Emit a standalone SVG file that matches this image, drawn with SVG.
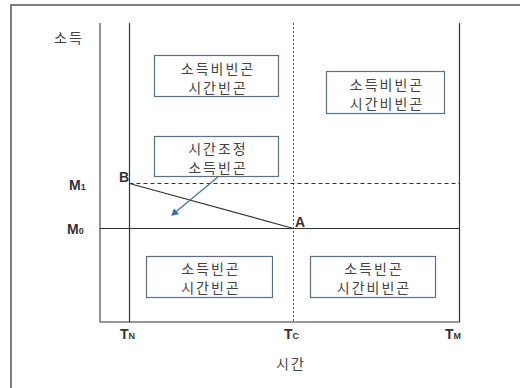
<svg xmlns="http://www.w3.org/2000/svg" width="520" height="388" viewBox="0 0 520 388">
<style>
.box{fill:#fff;stroke:#5a6f8a;stroke-width:1.2}
.kt{font-family:"Noto Sans CJK KR","Noto Sans",sans-serif;font-size:14px;letter-spacing:2px;fill:#444;text-anchor:middle}
.lbl{font-family:"Liberation Sans",Arial,sans-serif;font-weight:bold;fill:#333}
.ax{stroke:#333;stroke-width:1.2;fill:none}
</style>
<defs>
<marker id="ah" markerWidth="8" markerHeight="8" refX="6" refY="4" orient="auto" markerUnits="userSpaceOnUse">
<path d="M0,0 L7,4 L0,8 Z" fill="#3f6fa8"/>
</marker>
</defs>
<rect width="520" height="388" fill="#fff"/>
<path d="M11,388 V5 H520" fill="none" stroke="#555" stroke-width="1.5"/>
<g id="axes">
<line x1="100" y1="23" x2="100" y2="322" stroke="#888" stroke-width="1.8"/>
<line x1="100" y1="322" x2="460" y2="322" class="ax"/>
<line x1="129.5" y1="23" x2="129.5" y2="322" class="ax"/>
<line x1="459.5" y1="23" x2="459.5" y2="322" class="ax"/>
<line x1="293.5" y1="23" x2="293.5" y2="322" stroke="#555" stroke-width="1" stroke-dasharray="2,2"/>
<line x1="129.5" y1="183.5" x2="459.5" y2="183.5" stroke="#333" stroke-width="1" stroke-dasharray="4,3"/>
<line x1="100" y1="228.5" x2="459.5" y2="228.5" class="ax"/>
</g>
<g id="connectors">
<line x1="129.5" y1="183.5" x2="293.5" y2="228.5" stroke="#333" stroke-width="1.2"/>
<line x1="218" y1="177" x2="172" y2="215" stroke="#3f6fa8" stroke-width="1.2" marker-end="url(#ah)"/>
</g>
<g id="box1"><rect class="box" x="154.5" y="55.5" width="124" height="41"/><text class="kt" x="218" y="73.5">소득비빈곤</text><text class="kt" x="218" y="92.5">시간빈곤</text></g>
<g id="box2"><rect class="box" x="326.5" y="71.5" width="118" height="42"/><text class="kt" x="387" y="89.5">소득비빈곤</text><text class="kt" x="387" y="108.5">시간비빈곤</text></g>
<g id="box3"><rect class="box" x="154.5" y="136.5" width="124" height="40"/><text class="kt" x="218" y="154">시간조정</text><text class="kt" x="218" y="172.5">소득빈곤</text></g>
<g id="box4"><rect class="box" x="146.5" y="256.5" width="126" height="41"/><text class="kt" x="211" y="274">소득빈곤</text><text class="kt" x="211" y="293">시간빈곤</text></g>
<g id="box5"><rect class="box" x="310.5" y="256.5" width="125" height="41"/><text class="kt" x="374" y="274">소득빈곤</text><text class="kt" x="374" y="293">시간비빈곤</text></g>
<g id="labels">
<text class="kt" x="69" y="43">소득</text>
<text class="kt" x="291" y="369">시간</text>
<text class="lbl" x="69" y="190" font-size="14">M<tspan font-size="9">1</tspan></text>
<text class="lbl" x="67" y="234" font-size="14">M<tspan font-size="9">0</tspan></text>
<text class="lbl" x="119" y="182" font-size="14">B</text>
<text class="lbl" x="295" y="227" font-size="14">A</text>
<text class="lbl" x="120" y="339" font-size="14">T<tspan font-size="9">N</tspan></text>
<text class="lbl" x="284" y="339" font-size="14">T<tspan font-size="9">C</tspan></text>
<text class="lbl" x="445" y="339" font-size="14">T<tspan font-size="9">M</tspan></text>
</g>
</svg>
